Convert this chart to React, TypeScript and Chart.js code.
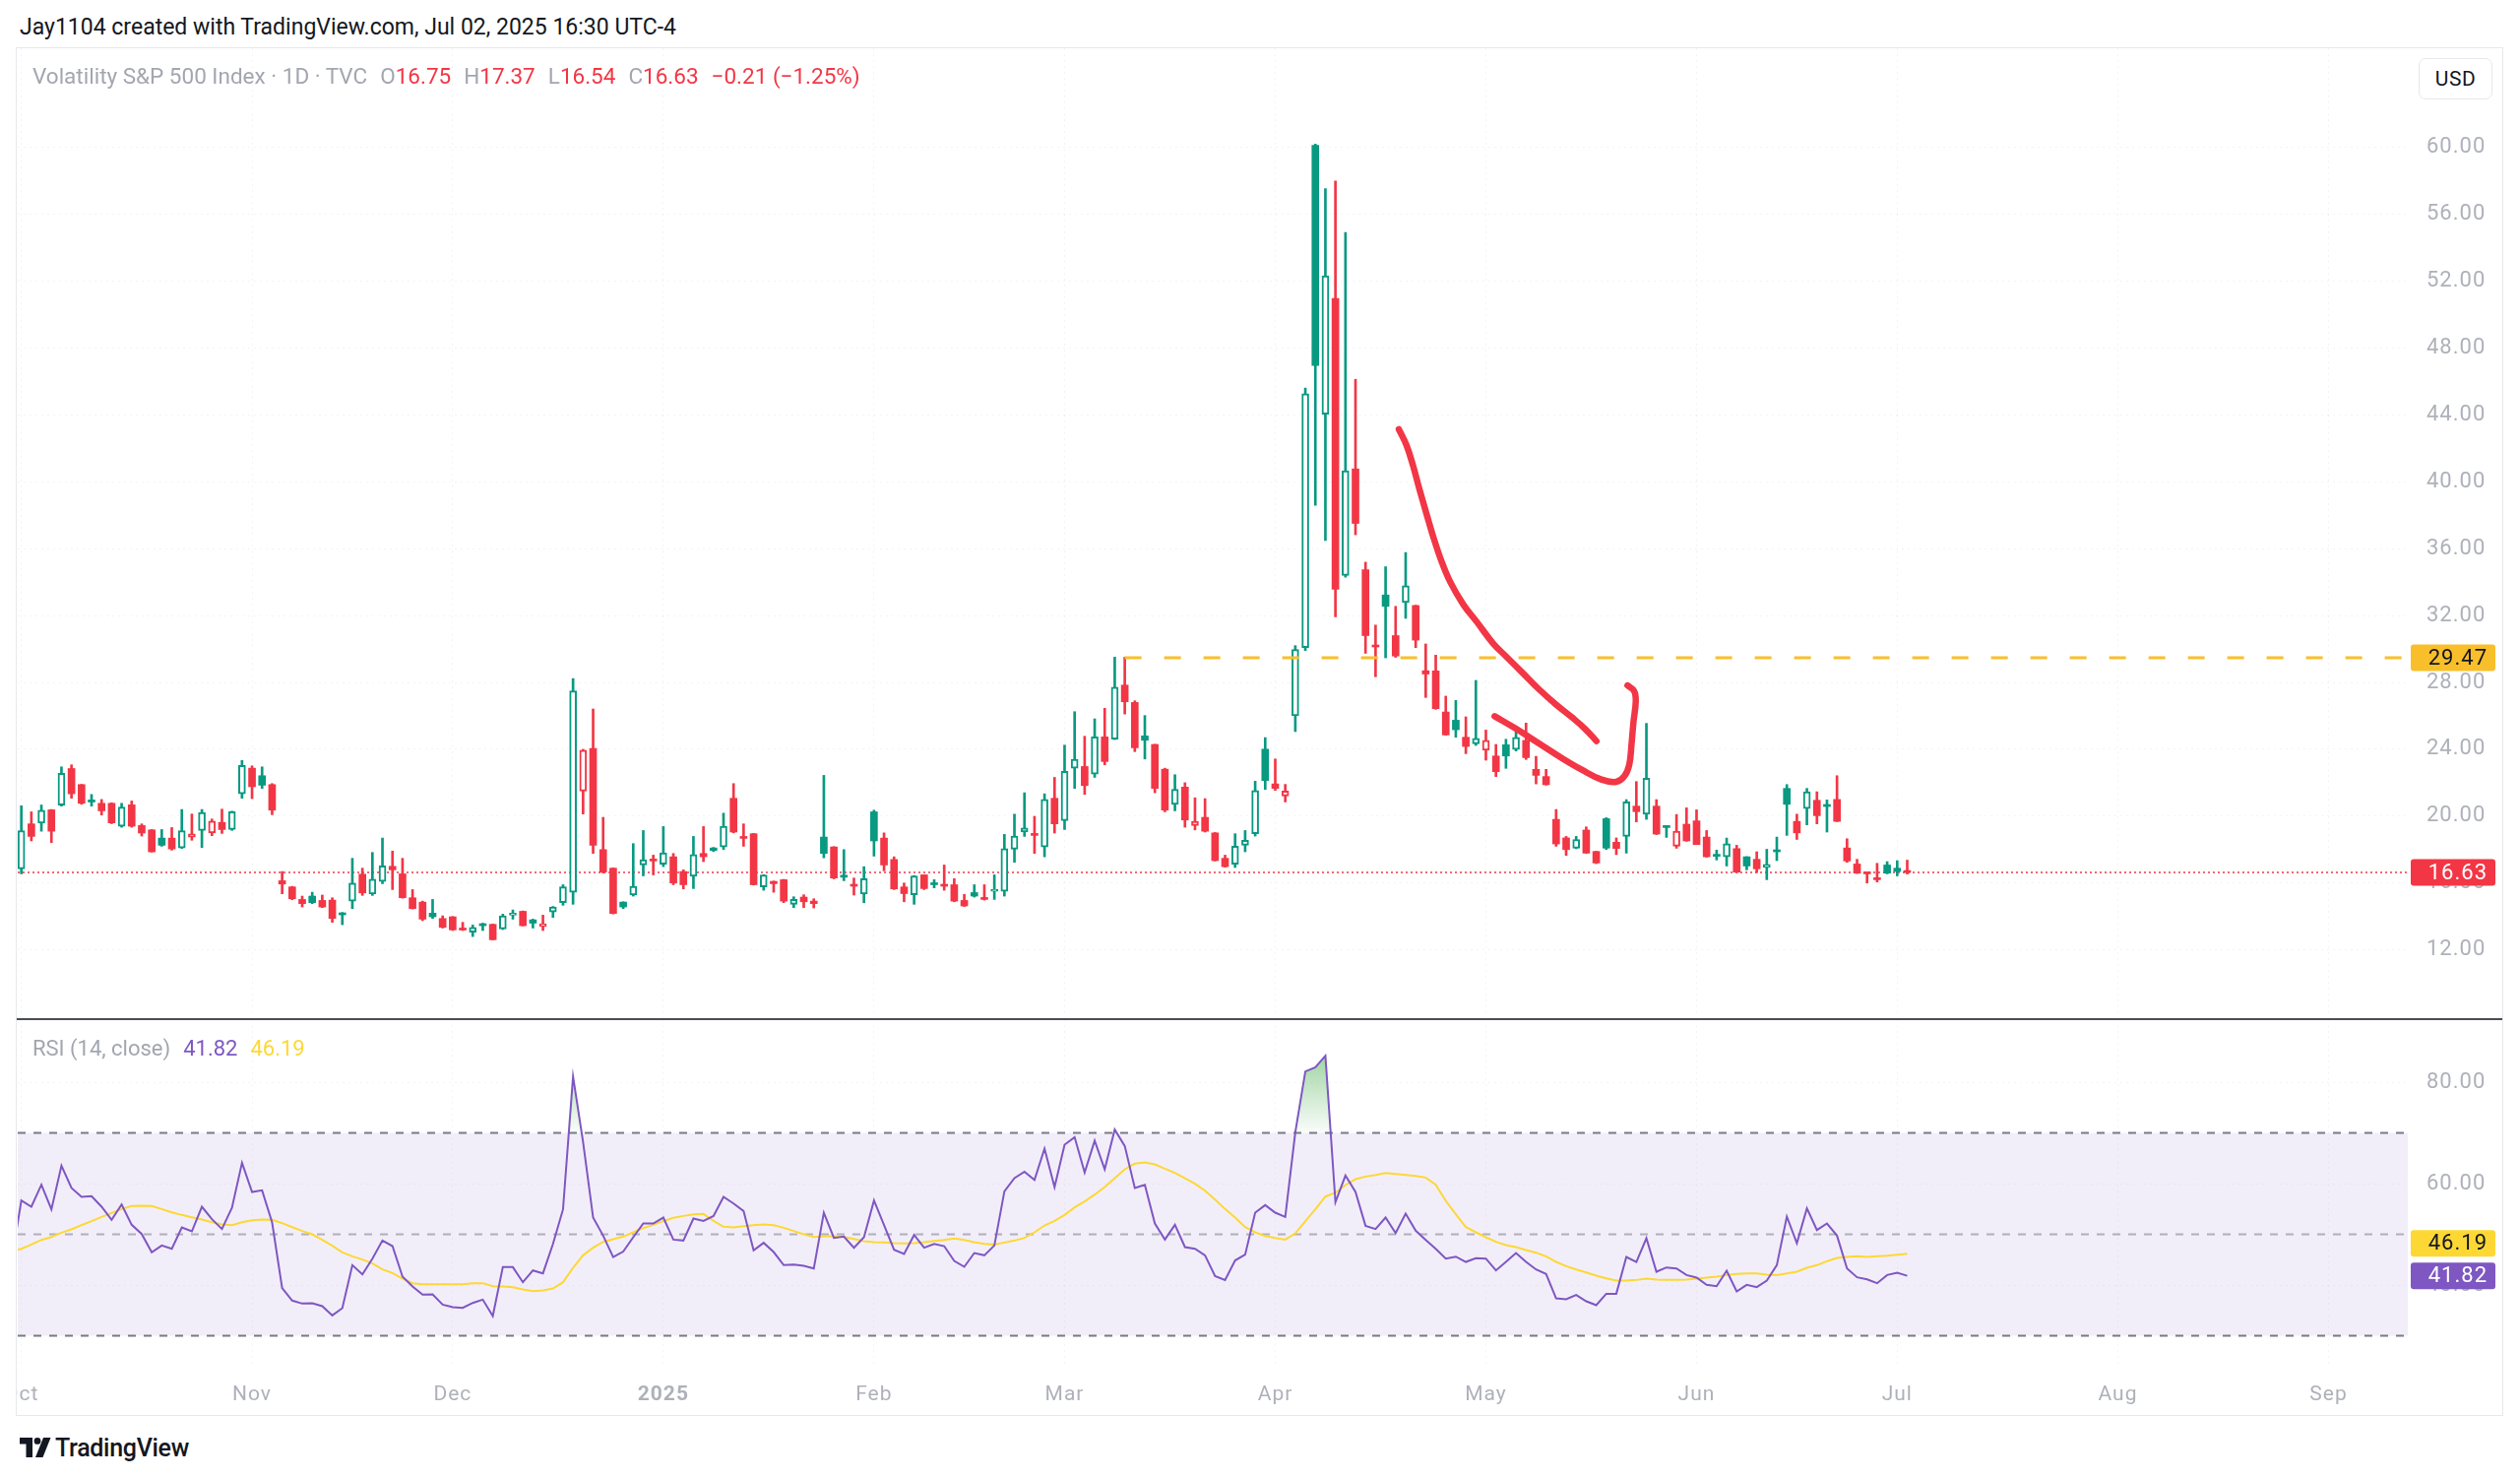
import React, { useEffect, useRef } from 'react';
import { Chart, registerables } from 'chart.js';

Chart.register(...registerables);

// ---------------- data ----------------
const dates = `
2024-10-01 2024-10-02 2024-10-03 2024-10-04 2024-10-07 2024-10-08 2024-10-09 2024-10-10 2024-10-11 2024-10-14
2024-10-15 2024-10-16 2024-10-17 2024-10-18 2024-10-21 2024-10-22 2024-10-23 2024-10-24 2024-10-25 2024-10-28
2024-10-29 2024-10-30 2024-10-31 2024-11-01 2024-11-04 2024-11-05 2024-11-06 2024-11-07 2024-11-08 2024-11-11
2024-11-12 2024-11-13 2024-11-14 2024-11-15 2024-11-18 2024-11-19 2024-11-20 2024-11-21 2024-11-22 2024-11-25
2024-11-26 2024-11-27 2024-11-29 2024-12-02 2024-12-03 2024-12-04 2024-12-05 2024-12-06 2024-12-09 2024-12-10
2024-12-11 2024-12-12 2024-12-13 2024-12-16 2024-12-17 2024-12-18 2024-12-19 2024-12-20 2024-12-23 2024-12-24
2024-12-26 2024-12-27 2024-12-30 2024-12-31 2025-01-02 2025-01-03 2025-01-06 2025-01-07 2025-01-08 2025-01-09
2025-01-10 2025-01-13 2025-01-14 2025-01-15 2025-01-16 2025-01-17 2025-01-21 2025-01-22 2025-01-23 2025-01-24
2025-01-27 2025-01-28 2025-01-29 2025-01-30 2025-01-31 2025-02-03 2025-02-04 2025-02-05 2025-02-06 2025-02-07
2025-02-10 2025-02-11 2025-02-12 2025-02-13 2025-02-14 2025-02-18 2025-02-19 2025-02-20 2025-02-21 2025-02-24
2025-02-25 2025-02-26 2025-02-27 2025-02-28 2025-03-03 2025-03-04 2025-03-05 2025-03-06 2025-03-07 2025-03-10
2025-03-11 2025-03-12 2025-03-13 2025-03-14 2025-03-17 2025-03-18 2025-03-19 2025-03-20 2025-03-21 2025-03-24
2025-03-25 2025-03-26 2025-03-27 2025-03-28 2025-03-31 2025-04-01 2025-04-02 2025-04-03 2025-04-04 2025-04-07
2025-04-08 2025-04-09 2025-04-10 2025-04-11 2025-04-14 2025-04-15 2025-04-16 2025-04-17 2025-04-21 2025-04-22
2025-04-23 2025-04-24 2025-04-25 2025-04-28 2025-04-29 2025-04-30 2025-05-01 2025-05-02 2025-05-05 2025-05-06
2025-05-07 2025-05-08 2025-05-09 2025-05-12 2025-05-13 2025-05-14 2025-05-15 2025-05-16 2025-05-19 2025-05-20
2025-05-21 2025-05-22 2025-05-23 2025-05-27 2025-05-28 2025-05-29 2025-05-30 2025-06-02 2025-06-03 2025-06-04
2025-06-05 2025-06-06 2025-06-09 2025-06-10 2025-06-11 2025-06-12 2025-06-13 2025-06-16 2025-06-17 2025-06-18
2025-06-20 2025-06-23 2025-06-24 2025-06-25 2025-06-26 2025-06-27 2025-06-30 2025-07-01 2025-07-02
`.trim().split(/\s+/);

const opens = [
  16.85, 19.54, 19.58, 20.38, 20.66, 22.85, 21.89, 20.88, 20.77, 20.77,
  19.4, 20.68, 19.44, 19.18, 18.69, 18.69, 18.1, 18.75, 19.14, 19.0,
  19.63, 19.2, 21.34, 22.87, 22.42, 21.89, 16.14, 15.77, 15.02, 15.22,
  14.96, 14.98, 14.2, 14.92, 16.53, 15.35, 16.1, 17.0, 16.55, 15.12,
  14.86, 14.2, 13.88, 13.98, 13.3, 13.06, 13.53, 13.53, 13.25, 14.08,
  14.31, 13.8, 13.4, 14.27, 14.83, 15.45, 21.5, 24.05, 18.0, 16.89,
  14.86, 15.28, 17.08, 17.38, 17.12, 17.57, 16.69, 16.4, 17.77, 18.1,
  18.16, 21.07, 18.73, 18.95, 15.77, 16.1, 16.2, 14.73, 15.16, 14.92,
  18.75, 18.16, 16.43, 15.87, 15.35, 20.26, 18.69, 17.41, 15.77, 15.3,
  16.49, 16.0, 15.87, 15.9, 14.96, 15.43, 15.08, 15.51, 15.51, 18.02,
  19.05, 18.95, 18.16, 21.07, 19.73, 22.87, 22.97, 22.52, 24.74, 24.6,
  27.84, 26.8, 24.8, 24.29, 22.81, 20.71, 21.74, 19.44, 19.93, 19.0,
  17.48, 17.12, 18.26, 18.95, 24.01, 21.93, 21.2, 26.0, 30.08, 60.13,
  44.04, 50.97, 34.4, 40.77, 34.74, 30.2, 33.23, 30.8, 32.78, 32.6,
  28.7, 28.69, 26.23, 25.74, 24.72, 24.33, 23.94, 23.6, 24.27, 23.98,
  24.53, 22.8, 22.37, 19.81, 18.7, 18.09, 19.17, 17.89, 19.85, 18.44,
  18.79, 20.6, 20.11, 20.6, 19.33, 18.2, 19.52, 19.72, 18.75, 17.64,
  17.57, 18.06, 17.57, 17.42, 16.93, 17.89, 21.66, 19.69, 20.46, 20.95,
  20.61, 21.0, 18.1, 17.14, 16.63, 16.26, 17.08, 16.89, 16.75,
];

const highs = [
  20.62, 20.26, 20.67, 20.4, 22.95, 23.07, 21.9, 21.3, 21.0, 20.8,
  20.77, 20.91, 19.54, 19.2, 19.2, 19.32, 20.4, 20.13, 20.4, 19.83,
  20.42, 20.3, 23.33, 23.01, 22.95, 21.95, 16.69, 15.8, 15.22, 15.45,
  15.28, 15.12, 14.24, 17.48, 16.89, 17.83, 18.69, 17.91, 17.48, 15.61,
  14.92, 15.02, 14.04, 14.0, 13.65, 13.49, 13.6, 13.55, 14.14, 14.39,
  14.33, 13.84, 14.08, 14.6, 15.9, 28.23, 24.0, 26.41, 19.93, 16.9,
  14.88, 18.36, 19.14, 17.67, 19.38, 17.77, 16.79, 18.79, 19.38, 18.13,
  20.18, 21.95, 19.54, 18.97, 16.5, 16.12, 16.22, 15.18, 15.3, 15.06,
  22.44, 18.18, 18.0, 16.3, 16.98, 20.36, 19.0, 17.57, 16.0, 16.45,
  16.5, 16.2, 17.08, 16.26, 15.32, 15.9, 15.9, 16.49, 18.91, 20.12,
  21.4, 19.99, 21.34, 22.32, 24.25, 26.25, 24.78, 25.82, 26.45, 29.51,
  29.51, 26.9, 26.02, 24.3, 22.87, 22.48, 22.0, 21.1, 21.05, 19.02,
  17.67, 18.95, 19.14, 22.09, 24.7, 23.42, 21.9, 30.2, 45.6, 60.2,
  57.54, 57.99, 54.91, 46.13, 35.19, 31.43, 34.92, 32.55, 35.77, 32.62,
  30.3, 29.63, 27.18, 26.92, 25.94, 28.12, 25.15, 24.29, 24.6, 25.15,
  25.57, 23.58, 22.8, 20.4, 18.79, 18.79, 19.36, 17.9, 19.91, 18.7,
  20.99, 22.07, 25.55, 20.99, 19.42, 20.1, 20.5, 20.38, 19.14, 17.97,
  18.69, 18.26, 17.58, 17.87, 18.02, 18.75, 21.89, 20.12, 21.66, 21.46,
  20.97, 22.42, 18.65, 17.42, 16.65, 17.18, 17.28, 17.34, 17.37,
];

const lows = [
  16.55, 18.52, 19.1, 18.42, 20.6, 21.07, 20.71, 20.6, 20.07, 19.55,
  19.34, 19.34, 18.81, 17.85, 18.2, 17.97, 18.07, 18.56, 18.12, 18.83,
  18.97, 19.15, 21.07, 21.05, 21.66, 20.09, 15.36, 15.0, 14.57, 14.77,
  14.53, 13.65, 13.51, 14.47, 15.26, 15.26, 15.96, 15.61, 15.1, 14.45,
  13.75, 13.88, 13.31, 13.16, 13.16, 12.8, 13.16, 12.6, 13.22, 13.84,
  13.43, 13.31, 13.16, 13.94, 14.67, 14.73, 20.13, 17.77, 16.6, 14.15,
  14.47, 15.22, 16.43, 16.49, 16.98, 15.9, 15.65, 15.67, 17.28, 17.88,
  18.0, 19.0, 18.2, 15.88, 15.57, 15.45, 14.83, 14.53, 14.53, 14.51,
  17.51, 16.25, 16.14, 15.28, 14.82, 17.61, 16.73, 15.61, 14.88, 14.73,
  15.61, 15.71, 15.57, 14.88, 14.6, 15.16, 14.98, 15.02, 15.22, 17.24,
  18.79, 17.77, 17.57, 18.99, 19.2, 21.66, 21.3, 22.32, 23.07, 24.58,
  26.11, 23.86, 23.42, 21.4, 20.26, 20.32, 19.34, 19.18, 19.05, 17.32,
  16.95, 16.93, 17.87, 18.81, 21.6, 21.54, 20.85, 25.06, 29.9, 38.59,
  36.49, 31.92, 34.3, 36.83, 29.74, 28.34, 29.47, 29.5, 31.83, 30.08,
  27.1, 26.39, 24.84, 24.72, 23.74, 24.23, 23.35, 22.37, 22.86, 23.9,
  23.39, 21.93, 21.86, 18.2, 17.65, 18.05, 17.77, 17.16, 18.01, 17.7,
  17.79, 19.66, 19.81, 18.9, 18.73, 18.08, 18.5, 18.3, 17.55, 17.38,
  17.02, 16.63, 16.79, 16.63, 16.2, 17.34, 18.85, 18.61, 19.48, 19.54,
  19.05, 19.67, 17.24, 16.57, 16.0, 16.06, 16.55, 16.43, 16.54,
];

const closes = [
  19.14, 18.79, 20.36, 19.1, 22.56, 21.34, 20.77, 20.85, 20.32, 19.6,
  20.54, 19.4, 18.99, 17.87, 18.26, 18.04, 19.14, 18.94, 20.22, 19.71,
  19.2, 20.26, 23.03, 21.76, 21.85, 20.36, 15.94, 15.06, 14.77, 14.83,
  14.57, 13.88, 14.1, 16.0, 15.41, 16.24, 17.03, 16.79, 15.12, 14.47,
  13.84, 13.98, 13.35, 13.2, 13.19, 13.35, 13.45, 12.61, 14.04, 14.18,
  13.45, 13.6, 13.55, 14.57, 15.77, 27.49, 23.95, 18.26, 16.65, 14.18,
  14.57, 15.8, 17.4, 17.32, 17.81, 16.0, 15.9, 17.71, 17.57, 17.95,
  19.4, 19.05, 18.67, 15.9, 16.49, 15.96, 14.92, 15.02, 14.88, 14.77,
  17.77, 16.3, 16.35, 15.81, 16.26, 18.52, 17.08, 15.65, 15.37, 16.43,
  15.67, 15.9, 15.81, 14.92, 14.63, 15.22, 15.02, 15.57, 18.06, 18.81,
  19.3, 18.85, 21.01, 19.54, 22.68, 23.4, 21.83, 24.74, 23.27, 27.72,
  26.84, 24.09, 24.54, 21.66, 20.36, 21.6, 19.77, 19.69, 19.1, 17.34,
  16.98, 18.2, 18.56, 21.54, 22.13, 21.66, 21.51, 29.97, 45.27, 46.96,
  52.32, 33.57, 40.66, 37.51, 30.8, 30.12, 32.55, 29.58, 33.79, 30.53,
  28.5, 26.43, 24.86, 25.17, 24.17, 24.66, 24.53, 22.66, 23.6, 24.72,
  23.5, 22.44, 21.88, 18.34, 18.0, 18.6, 17.79, 17.2, 18.09, 18.07,
  20.85, 20.27, 22.27, 18.93, 19.32, 19.1, 18.52, 18.3, 17.57, 17.6,
  18.36, 16.65, 17.02, 16.85, 17.12, 17.87, 20.71, 19.0, 21.46, 20.03,
  20.58, 19.69, 17.32, 16.59, 16.55, 16.2, 16.59, 16.69, 16.63,
];
const closeBeforeFirst = 16.73;

const rsiValues = [
  56.67, 55.44, 59.77, 54.92, 63.53, 59.13, 57.38, 57.51, 55.44, 52.85,
  55.89, 51.88, 50.06, 46.44, 47.8, 47.15, 51.36, 50.58, 55.44, 52.98,
  51.04, 55.24, 64.11, 58.35, 58.67, 52.33, 39.39, 36.93, 36.34, 36.41,
  35.83, 34.01, 35.44, 43.92, 42.1, 45.21, 48.77, 47.67, 41.65, 39.71,
  38.09, 38.16, 36.15, 35.63, 35.5, 36.47, 37.12, 33.88, 43.53, 43.53,
  40.55, 42.88, 42.3, 48.12, 54.92, 81.13, 68.19, 53.3, 49.74, 45.5,
  46.6, 49.42, 52.14, 52.14, 53.3, 48.96, 48.77, 53.11, 52.65, 53.62,
  57.38, 56.08, 54.6, 46.83, 48.32, 46.5, 43.92, 44.05, 43.79, 43.27,
  54.27, 49.29, 49.55, 47.35, 49.42, 56.67, 51.81, 46.96, 46.12, 49.87,
  47.35, 48.12, 47.67, 44.76, 43.59, 46.31, 45.86, 47.8, 58.48, 61.07,
  62.36, 60.74, 66.89, 59.32, 67.67, 69.16, 62.17, 68.45, 62.82, 70.65,
  67.41, 59.13, 59.77, 52.14, 48.96, 51.88, 47.48, 47.15, 45.86, 41.78,
  41.0, 44.85, 45.99, 54.27, 55.76, 54.27, 53.43, 70.13, 82.1, 82.94,
  85.21, 56.34, 61.59, 58.35, 51.68, 51.04, 53.3, 50.26, 54.08, 50.71,
  48.9, 47.15, 45.21, 45.6, 44.56, 45.28, 45.21, 42.88, 44.56, 46.31,
  44.56, 43.07, 42.17, 37.38, 37.18, 38.03, 36.8, 36.02, 38.28, 38.28,
  45.53, 44.56, 49.22, 42.62, 43.46, 43.27, 41.97, 41.46, 40.03, 39.77,
  42.82, 38.74, 40.03, 39.58, 40.87, 43.92, 53.5, 48.25, 55.11, 50.84,
  52.14, 49.74, 43.27, 41.52, 41.13, 40.36, 41.97, 42.43, 41.82,
];
const rsiBeforeFirst = 44.5;

const rsiMaValues = [
  47.15, 47.99, 48.9, 49.48, 50.32, 50.97, 51.81, 52.59, 53.43, 54.21,
  54.98, 55.57, 55.63, 55.57, 54.98, 54.34, 53.82, 53.37, 52.91, 52.39,
  51.94, 51.81, 52.39, 52.78, 52.91, 52.85, 52.2, 51.42, 50.65, 50.0,
  48.9, 47.73, 46.44, 45.66, 45.02, 44.24, 43.07, 42.36, 41.26, 40.36,
  40.16, 40.16, 40.16, 40.16, 40.16, 40.36, 40.36, 39.77, 39.71, 39.58,
  39.13, 38.8, 38.93, 39.32, 40.55, 43.4, 45.86, 47.35, 48.51, 49.03,
  49.55, 50.39, 51.23, 51.88, 52.59, 53.24, 53.62, 53.95, 54.01, 52.65,
  51.49, 51.36, 51.62, 51.81, 51.94, 51.81, 51.29, 50.65, 50.0, 49.48,
  49.61, 49.68, 49.48, 49.09, 48.64, 48.45, 48.38, 48.25, 48.19, 48.25,
  48.45, 48.71, 48.9, 49.16, 48.9, 48.45, 48.12, 47.99, 48.38, 48.77,
  49.29, 50.39, 51.75, 52.65, 53.82, 55.31, 56.47, 57.83, 59.32, 61.07,
  62.82, 63.92, 64.17, 63.79, 62.94, 62.1, 61.07, 59.97, 58.61, 56.86,
  54.98, 53.3, 51.42, 50.39, 49.68, 49.29, 48.96, 50.19, 52.59, 54.92,
  57.44, 58.22, 59.71, 60.87, 61.39, 61.72, 62.1, 61.91, 61.72, 61.52,
  61.2, 59.77, 56.6, 53.95, 51.42, 50.39, 49.42, 48.51, 47.86, 47.48,
  46.89, 46.38, 45.66, 44.56, 43.72, 43.07, 42.49, 41.84, 41.33, 40.87,
  40.87, 41.0, 41.26, 41.07, 41.0, 41.0, 41.07, 41.26, 41.46, 41.65,
  41.97, 42.17, 42.3, 42.3, 42.04, 41.97, 42.3, 42.62, 43.4, 43.92,
  44.69, 45.34, 45.53, 45.66, 45.53, 45.66, 45.79, 45.99, 46.19,
];
const rsiMaBeforeFirst = 46.7;

// axis ticks (bar index of the first session of each month) and labels
const monthTickIdx = [0, 23, 43, 64, 85, 104, 125, 146, 167, 187, 209, 230];
const monthTickLabels = ['Oct', 'Nov', 'Dec', '2025', 'Feb', 'Mar', 'Apr', 'May', 'Jun', 'Jul', 'Aug', 'Sep'];
const priceTicks = [12, 16, 20, 24, 28, 32, 36, 40, 44, 48, 52, 56, 60];
const rsiTicks = [40, 60, 80];
const rsiLevels = [70, 50, 30];

// horizontal ray drawn from the 2025-03-11 session
const rayStartIdx = 110;
const rayLevel = 29.47;

// hand-drawn brush strokes (bar index, price)
const brush1Idx = [137.32, 138.07, 138.73, 139.39, 140.04, 140.7, 141.57, 142.45, 143.76, 145.08, 146.71, 148.02, 149.66, 151.29, 152.93, 154.56, 155.87, 157.02];
const brush1Val = [43.14, 42.21, 40.98, 39.52, 38.16, 36.81, 35.25, 34.0, 32.65, 31.63, 30.34, 29.55, 28.57, 27.59, 26.71, 25.92, 25.23, 24.49];
const brush2Idx = [146.87, 149.0, 151.29, 153.58, 155.55, 157.51, 158.98, 159.8, 160.29, 160.51, 160.71, 160.94, 160.77, 160.12];
const brush2Val = [25.98, 25.23, 24.35, 23.47, 22.78, 22.19, 22.05, 22.39, 23.07, 24.25, 25.63, 26.9, 27.49, 27.82];

// ---------------- styling / layout ----------------
const GREEN = '#089981';
const RED = '#f23645';
const PURPLE = '#7e57c2';
const YELLOW = '#fdd835';
const AMBER = '#f9bf2a';
const AXIS_TEXT = '#aeb1b9';
const GRID = 'rgba(42,46,57,0.05)';
const FONT = 'Roboto, "Noto Sans", Arial, sans-serif';
const CANVAS_SPACING = '1px';

const X_MIN = -0.36;
const X_MAX = 237.9;
const PRICE_MIN = 7.86;
const PRICE_MAX = 65.93;
const RSI_MIN = 24.47;
const RSI_MAX = 92.43;

const PANEL_L = 17;
const PANEL_W = 2525;
const MAIN_TOP = 49;
const MAIN_H = 986;
const RSI_TOP = 1035;
const RSI_H = 402;
const AXIS_W = 96;

const n = closes.length;
const prevClose = (i: number) => (i === 0 ? closeBeforeFirst : closes[i - 1]);
const candleColor = (i: number) => (closes[i] >= prevClose(i) ? GREEN : RED);
const isHollow = (i: number) => closes[i] > opens[i];

function drawTag(ctx: any, left: number, yc: number, bg: string, fg: string, text: string) {
  const w = 86;
  const h = 27;
  ctx.save();
  ctx.fillStyle = bg;
  ctx.beginPath();
  if (ctx.roundRect) ctx.roundRect(left, yc - h / 2, w, h, 3);
  else ctx.rect(left, yc - h / 2, w, h);
  ctx.fill();
  ctx.fillStyle = fg;
  ctx.font = `22px ${FONT}`;
  ctx.textAlign = 'right';
  ctx.textBaseline = 'middle';
  ctx.fillText(text, left + 78, yc + 1);
  ctx.restore();
}

const spacingPlugin = {
  id: 'letterSpacing',
  beforeUpdate(chart: any) { chart.ctx.letterSpacing = CANVAS_SPACING; },
  beforeDraw(chart: any) { chart.ctx.letterSpacing = CANVAS_SPACING; },
};

const priceTagPlugin = {
  id: 'priceTags',
  afterDraw(chart: any) {
    const { ctx, chartArea, scales } = chart;
    const y = scales.y;
    const left = chartArea.right + 3;
    drawTag(ctx, left, y.getPixelForValue(rayLevel), AMBER, '#131722', rayLevel.toFixed(2));
    const last = closes[n - 1];
    drawTag(ctx, left, y.getPixelForValue(last), RED, '#ffffff', last.toFixed(2));
  },
};

const rsiBandPlugin = {
  id: 'rsiBand',
  beforeDatasetsDraw(chart: any) {
    const { ctx, chartArea, scales } = chart;
    const top = scales.y.getPixelForValue(rsiLevels[0]);
    const bot = scales.y.getPixelForValue(rsiLevels[2]);
    ctx.save();
    ctx.fillStyle = 'rgba(126,87,194,0.1)';
    ctx.fillRect(chartArea.left, top, chartArea.right - chartArea.left, bot - top);
    ctx.restore();
  },
};

const rsiTagPlugin = {
  id: 'rsiTags',
  afterDraw(chart: any) {
    const { ctx, chartArea, scales } = chart;
    const y = scales.y;
    const left = chartArea.right + 3;
    const rsiLast = rsiValues[rsiValues.length - 1];
    const maLast = rsiMaValues[rsiMaValues.length - 1];
    const py = y.getPixelForValue(rsiLast);
    let my = y.getPixelForValue(maLast);
    if (my > py - 33) my = py - 33;
    drawTag(ctx, left, my, YELLOW, '#131722', maLast.toFixed(2));
    drawTag(ctx, left, py, PURPLE, '#ffffff', rsiLast.toFixed(2));
  },
};

const rsiAboveFill = (c: any) => {
  const chart = c.chart;
  const y = chart && chart.scales ? chart.scales.y : null;
  if (!chart || !chart.chartArea || !y) return 'rgba(76,175,80,0.3)';
  const g = chart.ctx.createLinearGradient(0, y.getPixelForValue(86), 0, y.getPixelForValue(70));
  g.addColorStop(0, 'rgba(76,175,80,0.55)');
  g.addColorStop(1, 'rgba(76,175,80,0.03)');
  return g;
};

function lineSet(label: string, xs: number[], ys: number[], extra: any) {
  return {
    type: 'line',
    label,
    data: xs.map((x, i) => ({ x, y: ys[i] })),
    pointRadius: 0,
    fill: false,
    ...extra,
  };
}

const yTickOpts = {
  color: AXIS_TEXT,
  font: { family: FONT, size: 22 },
  padding: 19,
  crossAlign: 'near',
  callback: (v: any) => Number(v).toFixed(2),
};

function mainConfig(): any {
  const idx = closes.map((_, i) => i);
  return {
    type: 'bar',
    data: {
      datasets: [
        lineSet('brush1', brush1Idx, brush1Val, { borderColor: RED, borderWidth: 6.5, tension: 0.4, borderCapStyle: 'round', borderJoinStyle: 'round', order: 0 }),
        lineSet('brush2', brush2Idx, brush2Val, { borderColor: RED, borderWidth: 6.5, tension: 0.4, borderCapStyle: 'round', borderJoinStyle: 'round', order: 0 }),
        lineSet('ray', [rayStartIdx, X_MAX], [rayLevel, rayLevel], { borderColor: AMBER, borderWidth: 3, borderDash: [17, 23], order: 1 }),
        {
          type: 'bar',
          label: 'body',
          data: idx.map((i) => ({ x: i, y: [opens[i], closes[i]] })),
          backgroundColor: idx.map((i) => (isHollow(i) ? '#ffffff' : candleColor(i))),
          borderColor: idx.map((i) => candleColor(i)),
          borderWidth: idx.map((i) => (isHollow(i) ? 2 : 0)),
          borderSkipped: false,
          barThickness: 7,
          minBarLength: 2,
          grouped: false,
          order: 2,
        },
        {
          type: 'bar',
          label: 'wick',
          data: idx.map((i) => ({ x: i, y: [lows[i], highs[i]] })),
          backgroundColor: idx.map((i) => candleColor(i)),
          borderWidth: 0,
          barThickness: 2,
          minBarLength: 1,
          grouped: false,
          order: 3,
        },
        lineSet('last', [X_MIN, X_MAX], [closes[n - 1], closes[n - 1]], { borderColor: RED, borderWidth: 1.5, borderDash: [2, 3], order: 4 }),
      ],
    },
    options: {
      responsive: false,
      animation: false,
      events: [],
      layout: { padding: { left: 1, right: 0, top: 0, bottom: 0 } },
      plugins: { legend: { display: false }, tooltip: { enabled: false } },
      scales: {
        x: {
          type: 'linear',
          min: X_MIN,
          max: X_MAX,
          offset: false,
          grid: { color: GRID, drawTicks: false, offset: false },
          border: { display: false, dash: [2, 4] },
          ticks: { display: false },
          afterBuildTicks: (s: any) => { s.ticks = monthTickIdx.map((v) => ({ value: v })); },
          afterFit: (s: any) => { s.height = 0; s.paddingLeft = 0; s.paddingRight = 0; },
        },
        y: {
          type: 'linear',
          position: 'right',
          min: PRICE_MIN,
          max: PRICE_MAX,
          grid: { color: GRID, drawTicks: false },
          border: { display: false, dash: [2, 4] },
          ticks: yTickOpts,
          afterBuildTicks: (s: any) => { s.ticks = priceTicks.map((v) => ({ value: v })); },
          afterFit: (s: any) => { s.width = AXIS_W; s.paddingTop = 0; s.paddingBottom = 0; },
        },
      },
    },
    plugins: [spacingPlugin, priceTagPlugin],
  };
}

function rsiConfig(): any {
  const rsiData = [{ x: -1, y: rsiBeforeFirst }, ...rsiValues.map((v, i) => ({ x: i, y: v }))];
  const maData = [{ x: -1, y: rsiMaBeforeFirst }, ...rsiMaValues.map((v, i) => ({ x: i, y: v }))];
  return {
    type: 'line',
    data: {
      datasets: [
        {
          label: 'RSI',
          data: rsiData,
          borderColor: PURPLE,
          borderWidth: 2,
          pointRadius: 0,
          tension: 0,
          backgroundColor: rsiAboveFill,
          fill: { target: { value: 70 }, below: 'rgba(0,0,0,0)' },
          order: 0,
        },
        { label: 'RSI MA', data: maData, borderColor: YELLOW, borderWidth: 2, pointRadius: 0, fill: false, tension: 0, order: 1 },
        lineSet('upper', [X_MIN, X_MAX], [rsiLevels[0], rsiLevels[0]], { borderColor: '#787b86', borderWidth: 2, borderDash: [8, 8], order: 2 }),
        lineSet('middle', [X_MIN, X_MAX], [rsiLevels[1], rsiLevels[1]], { borderColor: 'rgba(120,123,134,0.55)', borderWidth: 2, borderDash: [8, 8], order: 2 }),
        lineSet('lower', [X_MIN, X_MAX], [rsiLevels[2], rsiLevels[2]], { borderColor: '#787b86', borderWidth: 2, borderDash: [8, 8], order: 2 }),
      ],
    },
    options: {
      responsive: false,
      animation: false,
      events: [],
      layout: { padding: { left: 1, right: 0, top: 0, bottom: 0 } },
      plugins: { legend: { display: false }, tooltip: { enabled: false } },
      scales: {
        x: {
          type: 'linear',
          min: X_MIN,
          max: X_MAX,
          offset: false,
          grid: { color: GRID, drawTicks: false, offset: false },
          border: { display: false, dash: [2, 4] },
          ticks: {
            color: AXIS_TEXT,
            autoSkip: false,
            maxRotation: 0,
            padding: 19,
            font: (c: any) => ({ family: FONT, size: 21, weight: c.tick && c.tick.value === 64 ? 'bold' : 'normal' }),
            callback: (v: any) => {
              const k = monthTickIdx.indexOf(Number(v));
              return k >= 0 ? monthTickLabels[k] : '';
            },
          },
          afterBuildTicks: (s: any) => { s.ticks = monthTickIdx.map((v) => ({ value: v })); },
          afterFit: (s: any) => { s.height = 52; s.paddingLeft = 0; s.paddingRight = 0; },
        },
        y: {
          type: 'linear',
          position: 'right',
          min: RSI_MIN,
          max: RSI_MAX,
          grid: { color: GRID, drawTicks: false },
          border: { display: false, dash: [2, 4] },
          ticks: yTickOpts,
          afterBuildTicks: (s: any) => { s.ticks = rsiTicks.map((v) => ({ value: v })); },
          afterFit: (s: any) => { s.width = AXIS_W; s.paddingTop = 0; s.paddingBottom = 0; },
        },
      },
    },
    plugins: [spacingPlugin, rsiBandPlugin, rsiTagPlugin],
  };
}

const gray = '#a3a6af';

export default function App() {
  const mainRef = useRef<HTMLCanvasElement>(null);
  const rsiRef = useRef<HTMLCanvasElement>(null);

  useEffect(() => {
    const c1 = new Chart(mainRef.current as HTMLCanvasElement, mainConfig());
    const c2 = new Chart(rsiRef.current as HTMLCanvasElement, rsiConfig());
    return () => {
      c1.destroy();
      c2.destroy();
    };
  }, []);

  const val = (t: string) => <span style={{ color: RED }}>{t}</span>;

  return (
    <div style={{ position: 'absolute', left: 0, top: 0, width: 2560, height: 1501, background: '#ffffff', overflow: 'hidden', fontFamily: FONT }}>
      <div style={{ position: 'absolute', left: 20, top: 14, fontSize: 23, lineHeight: '28px', color: '#131722', whiteSpace: 'nowrap' }}>
        Jay1104 created with TradingView.com, Jul 02, 2025 16:30 UTC-4
      </div>

      <div style={{ position: 'absolute', left: 16, top: 48, width: 2527, height: 1390, border: '1px solid #e6e8ec', boxSizing: 'border-box' }} />

      <canvas ref={mainRef} width={PANEL_W} height={MAIN_H} style={{ position: 'absolute', left: PANEL_L, top: MAIN_TOP, width: PANEL_W, height: MAIN_H }} />
      <canvas ref={rsiRef} width={PANEL_W} height={RSI_H} style={{ position: 'absolute', left: PANEL_L, top: RSI_TOP, width: PANEL_W, height: RSI_H }} />

      <div style={{ position: 'absolute', left: PANEL_L, top: 1034, width: PANEL_W, height: 2, background: '#4a4d57' }} />

      <div style={{ position: 'absolute', left: 33, top: 63, fontSize: 22.5, lineHeight: '28px', color: gray, whiteSpace: 'nowrap' }}>
        <span>Volatility S&amp;P 500 Index · 1D · TVC</span>
        <span style={{ marginLeft: 13 }}>O</span>{val('16.75')}
        <span style={{ marginLeft: 13 }}>H</span>{val('17.37')}
        <span style={{ marginLeft: 13 }}>L</span>{val('16.54')}
        <span style={{ marginLeft: 13 }}>C</span>{val('16.63')}
        <span style={{ marginLeft: 13, color: RED }}>−0.21 (−1.25%)</span>
      </div>

      <div style={{ position: 'absolute', left: 2457, top: 59, width: 75, height: 42, border: '1px solid #e6e8ec', borderRadius: 7, boxSizing: 'border-box', display: 'flex', alignItems: 'center', justifyContent: 'center', fontSize: 21, color: '#131722', background: '#fff', letterSpacing: '0.5px' }}>
        USD
      </div>

      <div style={{ position: 'absolute', left: 33, top: 1051, fontSize: 22, lineHeight: '28px', color: gray, whiteSpace: 'nowrap' }}>
        <span>RSI (14, close)</span>
        <span style={{ marginLeft: 13, color: PURPLE }}>41.82</span>
        <span style={{ marginLeft: 13, color: YELLOW }}>46.19</span>
      </div>

      <div style={{ position: 'absolute', left: 20, top: 1455, height: 30, display: 'flex', alignItems: 'center', color: '#131722' }}>
        <svg width="32" height="20" viewBox="0 0 32 20" style={{ marginRight: 4 }}>
          <path d="M0 0 H13 V20 H6.5 V6.5 H0 Z" fill="#131722" />
          <circle cx="18" cy="3.4" r="3.4" fill="#131722" />
          <path d="M24 0 H31.5 L23.5 20 H16 Z" fill="#131722" />
        </svg>
        <span style={{ fontSize: 25, fontWeight: 500, letterSpacing: '-0.3px' }}>TradingView</span>
      </div>
    </div>
  );
}
